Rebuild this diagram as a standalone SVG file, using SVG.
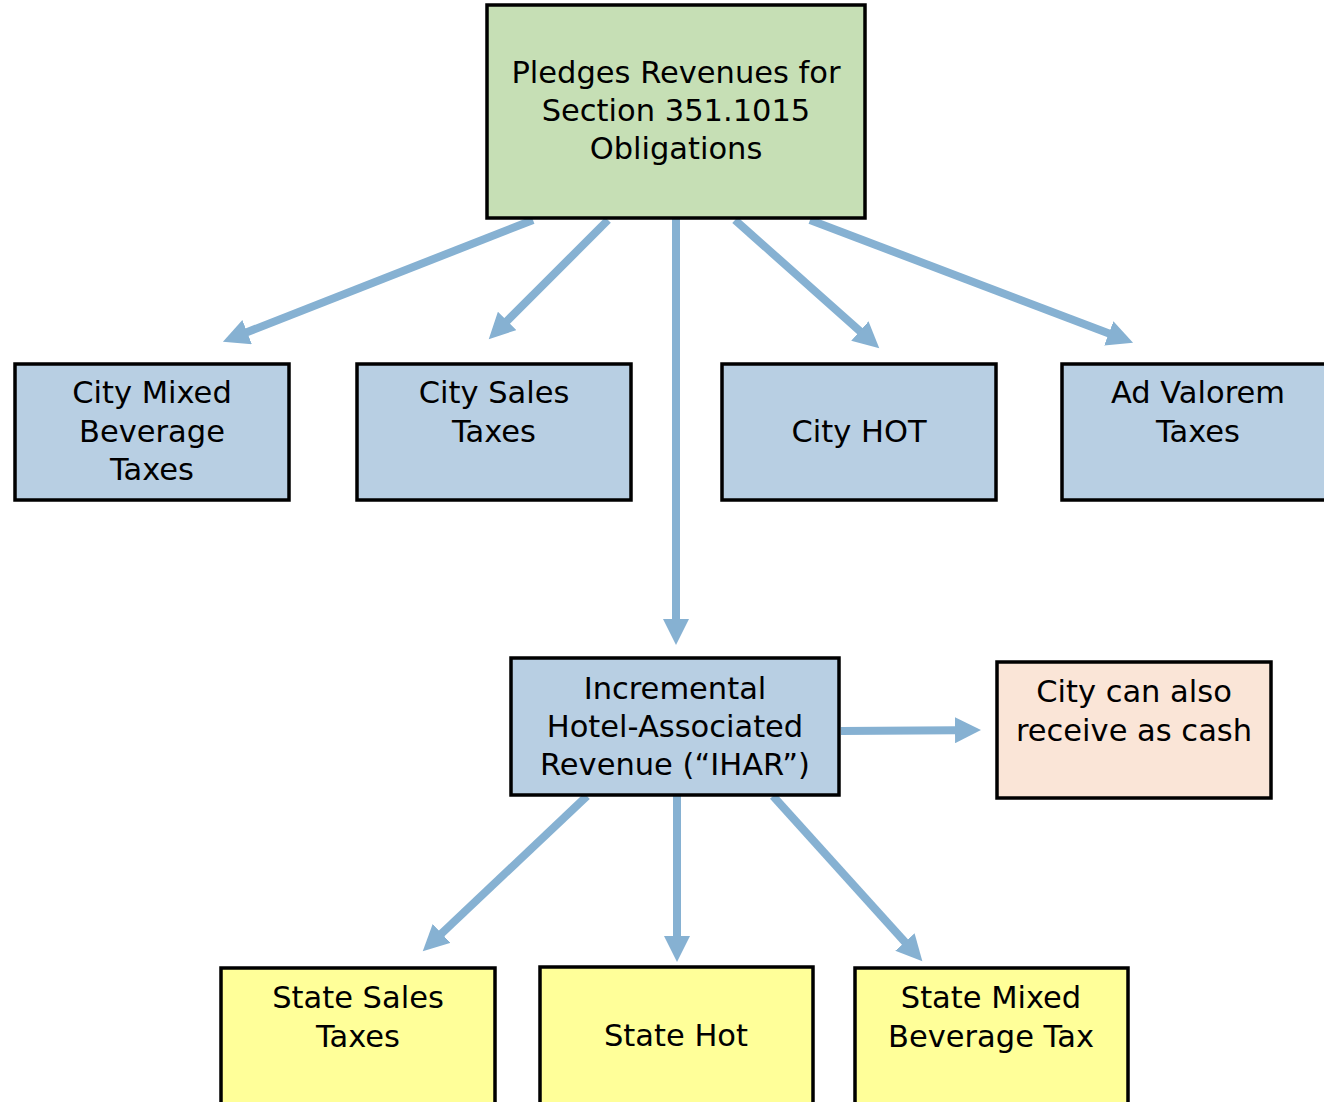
<svg xmlns="http://www.w3.org/2000/svg" width="1324" height="1102" viewBox="0 0 1324 1102">
<style>
.box{stroke:#000;stroke-width:3.5}
.green{fill:#c6dfb5}
.blue{fill:#b8cfe3}
.peach{fill:#fae5d7}
.yellow{fill:#ffff99}
.t{font-family:"DejaVu Sans",sans-serif;font-size:30.5px;fill:#000;text-anchor:middle}
.c{stroke:#86b1d2;stroke-width:8;fill:none}
</style>
<defs>
<marker id="ah" markerUnits="userSpaceOnUse" markerWidth="28" markerHeight="26" refX="1" refY="13" orient="auto" viewBox="0 0 28 26">
<path d="M0,0 L26,13 L0,26 Z" fill="#86b1d2"/>
</marker>
</defs>
<g id="connectors">
<line class="c" x1="533" y1="220" x2="246.2" y2="332.5" marker-end="url(#ah)"/>
<line class="c" x1="608" y1="220" x2="506.4" y2="321.6" marker-end="url(#ah)"/>
<line class="c" x1="676" y1="218" x2="676" y2="620" marker-end="url(#ah)"/>
<line class="c" x1="735" y1="220" x2="860.6" y2="331.7" marker-end="url(#ah)"/>
<line class="c" x1="810" y1="220" x2="1109.7" y2="333.8" marker-end="url(#ah)"/>
<line class="c" x1="841" y1="731" x2="956" y2="730.2" marker-end="url(#ah)"/>
<line class="c" x1="587" y1="796" x2="440.9" y2="934.1" marker-end="url(#ah)"/>
<line class="c" x1="677" y1="796" x2="677" y2="937" marker-end="url(#ah)"/>
<line class="c" x1="773" y1="796" x2="905.6" y2="942.7" marker-end="url(#ah)"/>
</g>
<g id="pledges">
<rect class="box green" x="487" y="5" width="378" height="213"/>
<text class="t" x="676" y="83">Pledges Revenues for</text>
<text class="t" x="676" y="121">Section 351.1015</text>
<text class="t" x="676" y="159">Obligations</text>
</g>
<g id="city-mixed">
<rect class="box blue" x="15" y="364" width="274" height="136"/>
<text class="t" x="152" y="403">City Mixed</text>
<text class="t" x="152" y="442">Beverage</text>
<text class="t" x="152" y="480">Taxes</text>
</g>
<g id="city-sales">
<rect class="box blue" x="357" y="364" width="274" height="136"/>
<text class="t" x="494" y="403">City Sales</text>
<text class="t" x="494" y="442">Taxes</text>
</g>
<g id="city-hot">
<rect class="box blue" x="722" y="364" width="274" height="136"/>
<text class="t" x="859" y="442">City HOT</text>
</g>
<g id="ad-valorem">
<rect class="box blue" x="1062" y="364" width="274" height="136"/>
<text class="t" x="1198" y="403">Ad Valorem</text>
<text class="t" x="1198" y="442">Taxes</text>
</g>
<g id="ihar">
<rect class="box blue" x="511" y="658" width="328" height="137"/>
<text class="t" x="675" y="699">Incremental</text>
<text class="t" x="675" y="737">Hotel-Associated</text>
<text class="t" x="675" y="775">Revenue (“IHAR”)</text>
</g>
<g id="cash">
<rect class="box peach" x="997" y="662" width="274" height="136"/>
<text class="t" x="1134" y="702">City can also</text>
<text class="t" x="1134" y="741">receive as cash</text>
</g>
<g id="state-sales">
<rect class="box yellow" x="221" y="968" width="274" height="145"/>
<text class="t" x="358" y="1008">State Sales</text>
<text class="t" x="358" y="1047">Taxes</text>
</g>
<g id="state-hot">
<rect class="box yellow" x="540" y="967" width="273" height="146"/>
<text class="t" x="676" y="1046">State Hot</text>
</g>
<g id="state-mixed">
<rect class="box yellow" x="855" y="968" width="273" height="145"/>
<text class="t" x="991" y="1008">State Mixed</text>
<text class="t" x="991" y="1047">Beverage Tax</text>
</g>
</svg>
